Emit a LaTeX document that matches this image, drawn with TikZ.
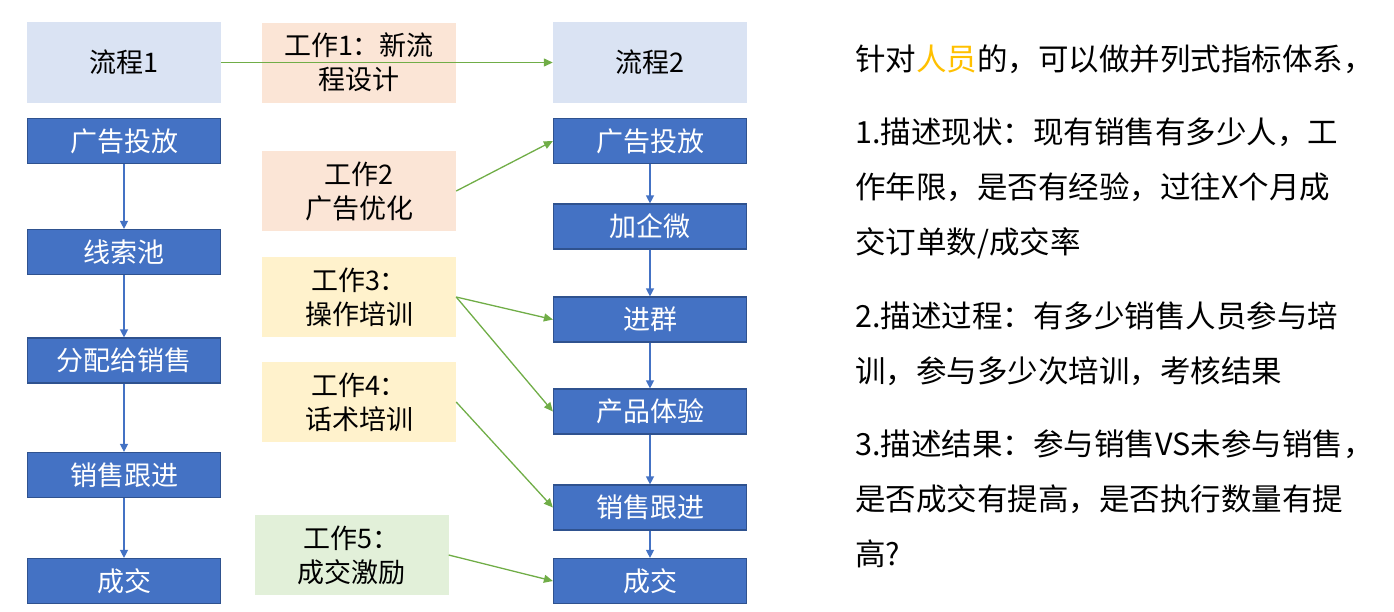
\documentclass[tikz,border=0pt]{standalone}
\usepackage{fontspec}
\setmainfont{Noto Sans CJK SC}
\usetikzlibrary{arrows.meta}

\definecolor{hdblue}{HTML}{DAE3F3}
\definecolor{procblue}{HTML}{4472C4}
\definecolor{procline}{HTML}{2F528F}
\definecolor{wpeach}{HTML}{FBE5D6}
\definecolor{wyellow}{HTML}{FFF2CC}
\definecolor{wgreen}{HTML}{E2F0D9}
\definecolor{agreen}{HTML}{70AD47}
\definecolor{hlorange}{HTML}{FFC000}

\begin{document}
\begin{tikzpicture}[x=1pt, y=-1pt,
    H/.style={fill=hdblue, minimum width=194pt, minimum height=81pt, inner sep=0pt, font=\fontsize{27}{34}\selectfont},
    P/.style={fill=procblue, draw=procline, line width=1.2pt, minimum width=193pt, minimum height=45pt, inner sep=0pt, text=white, font=\fontsize{27}{34}\selectfont},
    W/.style={minimum width=194pt, minimum height=80pt, inner sep=0pt, align=center, font=\fontsize{27}{34}\selectfont},
    pa/.style={-{Triangle[length=8pt,width=8pt]}, procblue, line width=1.3pt},
    ga/.style={-{Triangle[length=9pt,width=8pt]}, agreen, line width=1.3pt},
    T/.style={anchor=base west, inner sep=0pt, align=left, font=\fontsize{30.5}{55}\selectfont}]

    \useasboundingbox (0,0) rectangle (1394,611);

    % 流程1
    \node[H] (F1) at (124,62.5) {流程1};
    \foreach \i/\y/\t in {1/141/广告投放, 2/252/线索池, 3/360.5/分配给销售, 4/475/销售跟进, 5/581/成交} {
      \node[P] (L\i) at (124,\y) {\t};
    }
    \foreach \a/\b in {L1/L2, L2/L3, L3/L4, L4/L5} {
      \draw[pa] (\a) -- (\b);
    }

    % 流程2
    \node[H] (F2) at (650,62.5) {流程2};
    \foreach \i/\y/\t in {1/141/广告投放, 2/226.5/加企微, 3/319.5/进群, 4/411.5/产品体验, 5/507.5/销售跟进, 6/581/成交} {
      \node[P] (R\i) at (650,\y) {\t};
    }
    \foreach \a/\b in {R1/R2, R2/R3, R3/R4, R4/R5, R5/R6} {
      \draw[pa] (\a) -- (\b);
    }

    % 工作
    \node[W, fill=wpeach] (W1) at (359,62.5) {工作1：新流\\程设计};
    \node[W, fill=wpeach] (W2) at (359,191) {工作2\\广告优化};
    \node[W, fill=wyellow] (W3) at (359,297) {工作3：\\操作培训};
    \node[W, fill=wyellow] (W4) at (359,402) {工作4：\\话术培训};
    \node[W, fill=wgreen] (W5) at (351.5,555) {工作5：\\成交激励};

    \draw[ga] (F1) -- (F2);
    \draw[ga] (W2.east) -- (R1.west);
    \draw[ga] (W3.east) -- (R3.west);
    \draw[ga] (W3.east) -- (R4.west);
    \draw[ga] (W4.east) -- (R5.west);
    \draw[ga] (W5.east) -- (R6.west);

    % 说明（base = 最后一行的基线）
    \node[T] (t0) at (855,70) {针对\textcolor{hlorange}{人员}的，可以做并列式指标体系，};
    \node[T] (t1) at (855,253) {1.描述现状：现有销售有多少人，工\\作年限，是否有经验，过往X个月成\\交订单数/成交率};
    \node[T] (t2) at (855,382) {2.描述过程：有多少销售人员参与培\\训，参与多少次培训，考核结果};
    \node[T] (t3) at (855,565) {3.描述结果：参与销售VS未参与销售，\\是否成交有提高，是否执行数量有提\\高?};
  \end{tikzpicture}
\end{document}
